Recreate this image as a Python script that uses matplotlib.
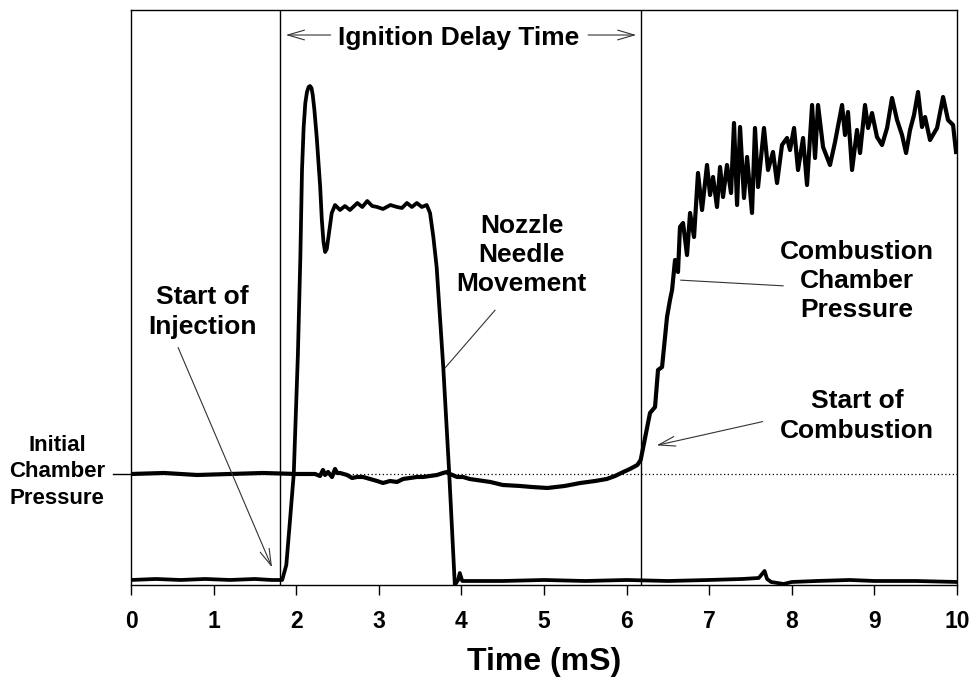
import matplotlib
matplotlib.use("Agg")
import matplotlib.pyplot as plt

plt.rcParams['font.family'] = ['Liberation Sans', 'DejaVu Sans']
plt.rcParams['font.weight'] = 'bold'

# nozzle needle lift trace (time in ms, signal in arbitrary units)
needle_t = [0, 0.3, 0.6, 0.9, 1.2, 1.5, 1.7, 1.83, 1.88, 1.92, 1.97, 2.02, 2.05,
            2.07, 2.09, 2.11, 2.13, 2.15, 2.167, 2.185, 2.20, 2.22, 2.248, 2.29,
            2.31, 2.33, 2.35, 2.37, 2.39, 2.43, 2.47, 2.53, 2.59, 2.65, 2.74,
            2.80, 2.86, 2.92, 2.98, 3.05, 3.14, 3.22, 3.28, 3.34, 3.40, 3.46,
            3.52, 3.58, 3.62, 3.66, 3.70, 3.78, 3.85, 3.92, 3.96, 3.98, 4.01,
            4.5, 5.0, 5.5, 6.0, 6.5, 7.0, 7.4, 7.6, 7.67, 7.70, 7.75, 7.9, 8.0,
            8.3, 8.7, 9.0, 9.5, 10.0]
needle_v = [5, 6, 5, 6, 5, 6, 5, 5, 20, 60, 111, 230, 328,
            415, 458, 482, 493, 498, 499, 497, 490, 475, 448, 398,
            365, 343, 333, 336, 348, 372, 380, 375, 379, 375, 382,
            378, 384, 379, 378, 376, 380, 378, 377, 382, 378, 382,
            378, 380, 372, 348, 318, 218, 115, 0, 5, 12, 4,
            4, 5, 4, 5, 4, 5, 6, 7, 14, 6, 3, 1, 3,
            4, 5, 4, 4, 3]

# combustion chamber pressure trace
press_t = [0, 0.4, 0.8, 1.2, 1.6, 2.0, 2.228, 2.288, 2.324, 2.349, 2.385, 2.433,
           2.470, 2.494, 2.530, 2.615, 2.676, 2.736, 2.809, 2.893, 2.978, 3.051,
           3.136, 3.220, 3.293, 3.378, 3.462, 3.535, 3.620, 3.705, 3.777, 3.826,
           3.862, 3.947, 4.019, 4.10, 4.35, 4.50, 4.71, 4.85, 5.04, 5.25, 5.44,
           5.62, 5.76, 5.86, 5.96, 6.04, 6.13, 6.17,
           6.199, 6.283, 6.344, 6.380, 6.429, 6.489, 6.525, 6.550, 6.586, 6.622,
           6.646, 6.683, 6.731, 6.768, 6.816, 6.864, 6.913, 6.973, 7.010, 7.046,
           7.094, 7.131, 7.167, 7.215, 7.264, 7.300, 7.337, 7.373, 7.421, 7.458,
           7.518, 7.554, 7.591, 7.663, 7.712, 7.772, 7.821, 7.881, 7.942, 7.978,
           8.027, 8.075, 8.136, 8.184, 8.245, 8.281, 8.317, 8.378, 8.462, 8.523,
           8.608, 8.644, 8.680, 8.729, 8.789, 8.826, 8.886, 8.923, 8.971, 9.031,
           9.092, 9.153, 9.213, 9.274, 9.334, 9.383, 9.431, 9.479, 9.528, 9.576,
           9.613, 9.673, 9.758, 9.831, 9.891, 9.952, 9.988]
press_v = [111, 112, 110, 111, 112, 111, 111, 109, 115, 110, 113, 108,
           116, 112, 112, 110, 107, 108, 108, 106, 104, 102,
           104, 103, 106, 107, 108, 108, 109, 110, 112, 113,
           111, 108, 108, 106, 103, 100, 99, 98, 97, 99, 102,
           104, 106, 109, 113, 116, 120, 125,
           137, 172, 178, 215, 218, 268, 285, 295, 325, 313,
           358, 362, 330, 372, 348, 412, 375, 420, 390, 408,
           378, 418, 388, 420, 392, 462, 380, 458, 387, 428,
           372, 457, 398, 457, 415, 433, 402, 440, 447, 435,
           457, 415, 447, 400, 480, 427, 480, 438, 420, 443,
           480, 450, 473, 415, 455, 432, 480, 457, 472, 448,
           440, 457, 487, 465, 450, 432, 455, 470, 493, 458,
           468, 445, 457, 488, 465, 460, 433]

initial_pressure = 111
injection_start = 1.80
combustion_start = 6.17
xticks = [0, 1, 2, 3, 4, 5, 6, 7, 8, 9, 10]

fig = plt.figure(figsize=(9.72, 6.81), dpi=100)
ax = fig.add_axes([0.1348, 0.141, 0.8498, 0.8443])

ax.axhline(initial_pressure, color='black', lw=0.9, ls=(0, (1, 2)))
ax.axvline(injection_start, color='black', lw=1.0)
ax.axvline(combustion_start, color='black', lw=1.0)

ax.plot(needle_t, needle_v, color='black', lw=2.7, solid_joinstyle='round')
ax.plot(press_t, press_v, color='black', lw=3.0, solid_joinstyle='round')

ax.set_xlim(0, 10)
ax.set_ylim(0, 575)
ax.set_xticks(xticks)
ax.set_yticks([])
ax.tick_params(axis='x', direction='out', length=7, width=1.0, labelsize=16.5, pad=11)
for lab in ax.get_xticklabels():
    lab.set_fontweight('bold')
for s in ax.spines.values():
    s.set_linewidth(1.0)
ax.set_xlabel('Time (mS)', fontsize=23, fontweight='bold', labelpad=10)

txt = dict(ha='center', va='center', fontsize=19, fontweight='bold', linespacing=1.28)
arr = dict(arrowstyle='->,head_length=1.2,head_width=0.35', color='#333333', lw=0.8)
line = dict(arrowstyle='-', color='#333333', lw=0.8)

ax.text(3.97, 547, 'Ignition Delay Time', **txt)
ax.annotate('', xy=(1.84, 550), xytext=(2.45, 550), arrowprops=arr)
ax.annotate('', xy=(6.15, 550), xytext=(5.50, 550), arrowprops=arr)

ax.text(0.86, 273, 'Start of\nInjection', **txt)
ax.annotate('', xy=(1.72, 15), xytext=(0.557, 240), arrowprops=arr)

ax.text(4.73, 330, 'Nozzle\nNeedle\nMovement', **txt)
ax.annotate('', xy=(3.78, 215), xytext=(4.43, 277), arrowprops=line)

ax.text(8.79, 304, 'Combustion\nChamber\nPressure', **txt)
ax.annotate('', xy=(6.62, 305), xytext=(7.93, 299), arrowprops=line)

ax.text(8.79, 169, 'Start of\nCombustion', **txt)
ax.annotate('', xy=(6.33, 139), xytext=(7.68, 164), arrowprops=arr)

ax.text(-0.896, 113, 'Initial\nChamber\nPressure', ha='center', va='center',
        fontsize=16, fontweight='bold', linespacing=1.35)
ax.plot([-0.22, 0], [initial_pressure, initial_pressure], color='black', lw=1.0,
        clip_on=False)

fig.savefig('out.png', dpi=100)
